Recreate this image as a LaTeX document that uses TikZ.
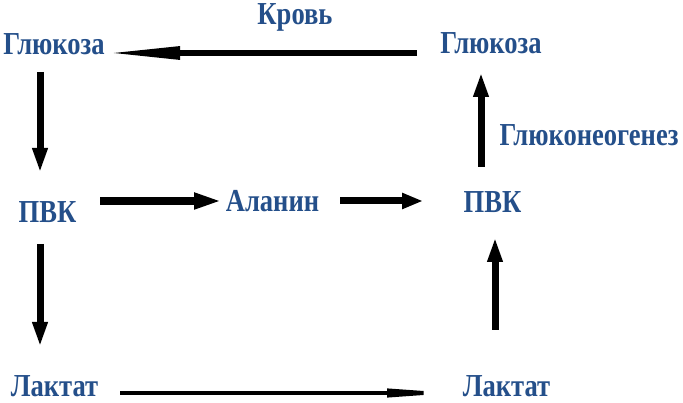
\documentclass[tikz,border=0pt]{standalone}
\usepackage{fontspec}
\setmainfont{Liberation Serif}
\usetikzlibrary{arrows.meta,calc}
\definecolor{txtblue}{RGB}{36,79,138}
\newcommand{\narrowtext}[1]{\scalebox{0.83}[1]{#1}}
\begin{document}
\begin{tikzpicture}[x=1pt,y=1pt,
  lbl/.style={font=\fontsize{32}{36}\selectfont\bfseries, text=txtblue, inner sep=0pt, anchor=base},
  arrow top/.style={line width=6pt, -{Triangle[length=75pt,width=12pt]}},
  arrow vert/.style={line width=7pt, -{Triangle[length=25pt,width=14pt]}},
  arrow mid/.style={line width=8pt, -{Triangle[length=28pt,width=15pt]}},
  arrow mid short/.style={line width=7pt, -{Triangle[length=21pt,width=15pt]}},
  arrow low/.style={line width=4pt, -{Triangle[length=73pt,width=8pt]}}
]
\useasboundingbox (0,0) rectangle (683,403);
\fill[white] (0,0) rectangle (683,403);

\node[lbl] (gL)   at (54,348)    {\narrowtext{Глюкоза}};
\node[lbl] (gR)   at (491,349)   {\narrowtext{Глюкоза}};
\node[lbl] (krov) at (295,378)   {\narrowtext{Кровь}};
\node[lbl] (pL)   at (47.5,180)  {\narrowtext{ПВК}};
\node[lbl] (ala)  at (272.5,191) {\narrowtext{Аланин}};
\node[lbl] (pR)   at (492.5,190) {\narrowtext{ПВК}};
\node[lbl] (gng)  at (589,257)   {\narrowtext{Глюконеогенез}};
\node[lbl] (lL)   at (54.5,6)    {\narrowtext{Лактат}};
\node[lbl] (lR)   at (506.5,6)   {\narrowtext{Лактат}};

\draw[arrow top]  ($(gR.base)+(-74,1)$)    -- ($(gL.base)+(51,2)$);
\draw[arrow vert] ($(gL.base)+(-14,-17)$)  -- ($(pL.base)+(-7.5,50)$);
\draw[arrow vert] ($(pL.base)+(-7.5,-21)$) -- ($(lL.base)+(-14.5,50)$);
\draw[arrow mid]  ($(pL.base)+(52.5,22)$)  -- ($(ala.base)+(-50.5,11)$);
\draw[arrow mid short] ($(ala.base)+(67.5,11)$) -- ($(pR.base)+(-69.5,12)$);
\draw[arrow low]  ($(lL.base)+(65.5,4)$)   -- ($(lR.base)+(-46.5,4)$);
\draw[arrow vert] ($(lR.base)+(-11.5,67)$) -- ($(pR.base)+(2.5,-24)$);
\draw[arrow vert] ($(pR.base)+(-11.5,46)$) -- ($(gR.base)+(-10,-18)$);
\end{tikzpicture}
\end{document}
